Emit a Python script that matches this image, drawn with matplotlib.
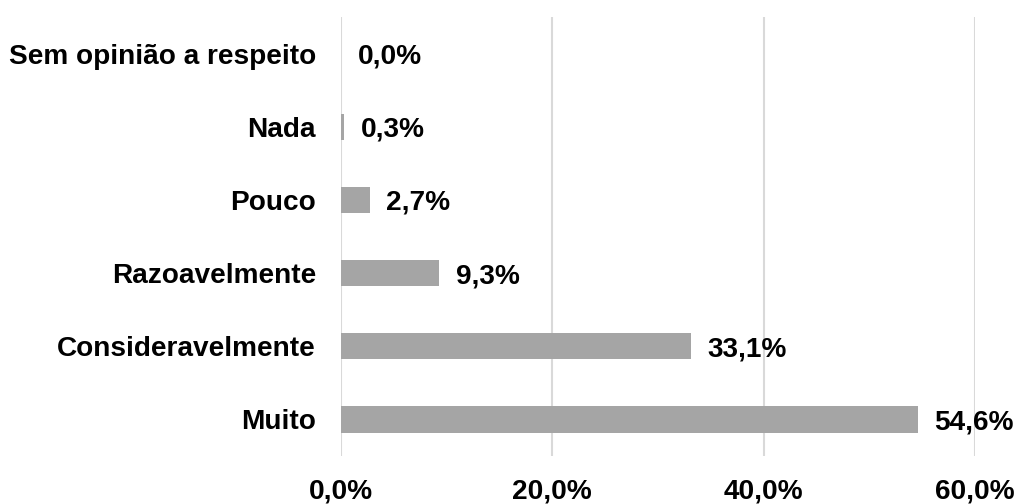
import matplotlib
matplotlib.use("Agg")
import matplotlib.pyplot as plt
from matplotlib.ticker import FuncFormatter

categories = ["Sem opinião a respeito", "Nada", "Pouco", "Razoavelmente",
              "Consideravelmente", "Muito"]
values = [0.0, 0.3, 2.7, 9.3, 33.1, 54.6]
xticks = [0, 20, 40, 60]

plt.rcParams['font.family'] = ['Liberation Sans', 'DejaVu Sans']
FS = 20.2

fig = plt.figure(figsize=(10.19, 5.04), dpi=100)
ax = fig.add_axes([341 / 1019, 1 - 456 / 504, 634 / 1019, 439 / 504])

# categorias de cima para baixo
ypos = list(range(len(categories)))[::-1]
ax.barh(ypos, values, height=0.36, color="#A5A5A5", zorder=2)

for y, v in zip(ypos, values):
    ax.annotate(f"{v:.1f}%".replace(".", ","), (v, y), xytext=(12, 0),
                textcoords="offset points", va="center_baseline", ha="left",
                fontsize=FS, fontweight="bold", color="black")

ax.set_xlim(0, 60)
ax.set_ylim(-0.5, len(categories) - 0.5)
ax.set_xticks(xticks)
ax.xaxis.set_major_formatter(FuncFormatter(lambda x, p: f"{x:.1f}%".replace(".", ",")))
ax.set_yticks(ypos)
ax.set_yticklabels(categories)
ax.tick_params(axis="both", length=0, labelsize=FS)
ax.tick_params(axis="y", pad=18)
ax.tick_params(axis="x", pad=16)
for lab in ax.get_xticklabels() + ax.get_yticklabels():
    lab.set_fontweight("bold")
ax.grid(axis="x", color="#D9D9D9", linewidth=1.5, zorder=0)
for s in ax.spines.values():
    s.set_visible(False)

fig.savefig("out.png", dpi=100)
